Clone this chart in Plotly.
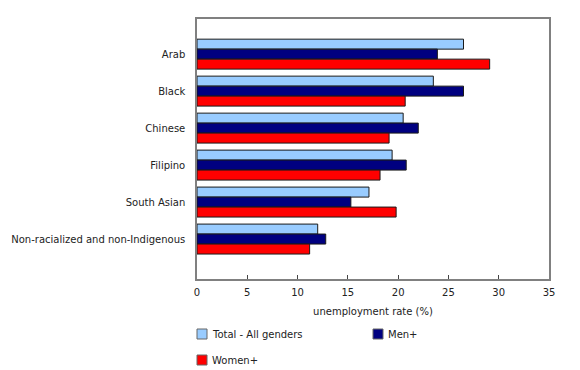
import plotly.graph_objects as go

categories = ["Arab", "Black", "Chinese", "Filipino", "South Asian",
              "Non-racialized and non-Indigenous"]
total_all = [26.5, 23.5, 20.5, 19.4, 17.1, 12.0]
men = [23.9, 26.5, 22.0, 20.8, 15.3, 12.8]
women = [29.1, 20.7, 19.1, 18.2, 19.8, 11.2]
series_names = ["Total - All genders", "Men+", "Women+"]
series_colors = ["#99CCFF", "#000080", "#FF0000"]
x_ticks = [0, 5, 10, 15, 20, 25, 30, 35]

FONT = "DejaVu Sans"
OFF = 8  # page body margin offset
W, H = 580 - OFF, 370 - OFF
ML, MR, MT, MB = 197 - OFF, 31, 19 - OFF, 91
PW, PH = W - ML - MR, H - MT - MB

fig = go.Figure()
for name, vals, col in zip(series_names, [total_all, men, women], series_colors):
    fig.add_trace(go.Bar(
        y=categories, x=vals, name=name, orientation="h",
        marker=dict(color=col, line=dict(color="#1a1a1a", width=1)),
        showlegend=False,
    ))

fig.update_layout(
    width=W, height=H,
    margin=dict(l=ML, r=MR, t=MT, b=MB, pad=0, autoexpand=False),
    paper_bgcolor="white", plot_bgcolor="white",
    barmode="group", bargap=0.19, bargroupgap=0,
    font=dict(family=FONT, size=10, color="#222222"),
    xaxis=dict(
        range=[0, 35], tickvals=x_ticks, ticktext=[str(t) for t in x_ticks],
        ticks="inside", ticklen=4, tickwidth=1, tickcolor="#444444",
        showline=True, linecolor="#808080", linewidth=1.5, mirror=True,
        showgrid=False, zeroline=False, automargin=False,
        ticklabelstandoff=3,
        title=dict(text="unemployment rate (%)", standoff=11,
                   font=dict(family=FONT, size=10, color="#222222")),
        tickfont=dict(family=FONT, size=10, color="#222222"),
    ),
    yaxis=dict(
        type="category", categoryorder="array", categoryarray=categories,
        range=[6.08, -0.95], ticks="", showgrid=False, automargin=False,
        showline=True, linecolor="#808080", linewidth=1.5, mirror=True,
        ticklabelstandoff=8,
        tickfont=dict(family=FONT, size=10, color="#222222"),
    ),
)

# legend drawn beneath the plot (positions given in window pixels)
def px_to_paper_x(px):
    return (px - OFF - ML) / PW

def px_to_paper_y(py):
    return (H - MB - (py - OFF)) / PH

leg_pos = [(197, 334), (373, 334), (197, 360)]
for (lx, ly), name, col in zip(leg_pos, series_names, series_colors):
    fig.add_shape(type="rect", xref="paper", yref="paper",
                  x0=px_to_paper_x(lx), x1=px_to_paper_x(lx + 10),
                  y0=px_to_paper_y(ly + 5), y1=px_to_paper_y(ly - 5),
                  fillcolor=col, line=dict(color="#666666", width=1))
    fig.add_annotation(xref="paper", yref="paper",
                       x=px_to_paper_x(lx + 13), y=px_to_paper_y(ly),
                       text=name, showarrow=False, xanchor="left", yanchor="middle",
                       font=dict(family=FONT, size=10, color="#222222"))

fig.write_html("out.html")
